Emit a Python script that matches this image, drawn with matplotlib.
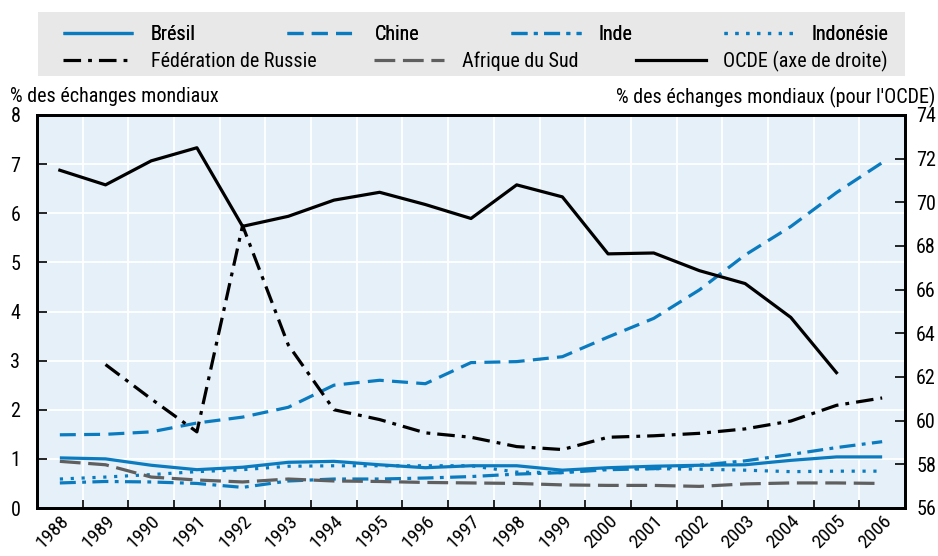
import matplotlib
matplotlib.use("Agg")
import matplotlib.pyplot as plt
from matplotlib import font_manager
import numpy as np
from matplotlib.patches import Rectangle

avail = {f.name for f in font_manager.fontManager.ttflist}
fam = next((f for f in ['Liberation Sans Narrow', 'Roboto Condensed', 'Open Sans Condensed', 'Roboto'] if f in avail), 'DejaVu Sans')
plt.rcParams['font.family'] = [fam, 'DejaVu Sans']

years = [str(y) for y in range(1988, 2007)]
bresil = [1.02, 1.00, 0.87, 0.78, 0.83, 0.93, 0.95, 0.88, 0.82, 0.86, 0.86, 0.77, 0.82, 0.85, 0.87, 0.88, 0.97, 1.04, 1.04]
chine = [1.49, 1.50, 1.55, 1.73, 1.85, 2.05, 2.50, 2.60, 2.53, 2.96, 2.98, 3.08, 3.48, 3.86, 4.44, 5.15, 5.73, 6.42, 7.03]
inde = [0.51, 0.54, 0.53, 0.50, 0.42, 0.55, 0.59, 0.59, 0.61, 0.64, 0.69, 0.72, 0.78, 0.80, 0.87, 0.96, 1.09, 1.23, 1.35]
indonesie = [0.59, 0.63, 0.68, 0.74, 0.78, 0.85, 0.86, 0.86, 0.86, 0.86, 0.73, 0.72, 0.81, 0.80, 0.79, 0.77, 0.74, 0.75, 0.75]
russie = [np.nan, 2.92, 2.22, 1.55, 5.75, 3.32, 2.00, 1.80, 1.53, 1.44, 1.25, 1.19, 1.44, 1.47, 1.52, 1.61, 1.77, 2.09, 2.24]
afrique = [0.95, 0.88, 0.63, 0.57, 0.53, 0.59, 0.55, 0.54, 0.52, 0.51, 0.50, 0.47, 0.46, 0.46, 0.44, 0.49, 0.51, 0.51, 0.50]
ocde = [71.47, 70.80, 71.90, 72.50, 68.90, 69.36, 70.10, 70.46, 69.90, 69.26, 70.80, 70.25, 67.64, 67.68, 66.87, 66.28, 64.73, 62.20, np.nan]

labels = ["Brésil", "Chine", "Inde", "Indonésie", "Fédération de Russie", "Afrique du Sud", "OCDE (axe de droite)"]

blue = "#0b7bc0"
gray = "#5f5f5f"
black = "#000000"
lw = 2.3
fs = 14.5

fig = plt.figure(figsize=(9.38, 5.56), dpi=100)
ax = fig.add_axes([37/938, 1-508/556, (905-37)/938, (508-115)/556])
ax.set_facecolor("#e5f0f8")
x = np.arange(len(years))

styles = [
    (bresil, blue, None),
    (chine, blue, (5.0, 2.6)),
    (inde, blue, (5.0, 2.0, 1.2, 2.0)),
    (indonesie, blue, (1.0, 2.4)),
    (russie, black, (5.5, 2.2, 1.2, 2.2)),
    (afrique, gray, (6.5, 2.4)),
]
handles = []
for (vals, col, dash), lab in zip(styles, labels[:6]):
    ln, = ax.plot(x, vals, color=col, lw=lw, solid_capstyle='butt', dash_capstyle='butt', zorder=3)
    if dash is not None:
        ln.set_dashes(dash)
    handles.append(ln)

ax2 = ax.twinx()
ln, = ax2.plot(x, ocde, color=black, lw=lw, zorder=3)
handles.append(ln)

ax.set_xlim(-0.5, len(years) - 0.5)
ax.set_ylim(0, 8)
ax2.set_ylim(56, 74)
ax.set_yticks(range(0, 9))
ax2.set_yticks(range(56, 75, 2))

ax.set_xticks(np.arange(0.5, len(years) - 1, 1.0))
ax.set_xticklabels([])
ax.set_xticks(x, minor=True)
ax.set_xticklabels(years, minor=True, rotation=45, ha='right', va='top', rotation_mode='anchor')
ax.tick_params(axis='x', which='minor', length=0, pad=3, labelsize=14)
ax.tick_params(axis='x', which='major', direction='in', length=6, width=1.2)
ax.tick_params(axis='y', direction='in', length=7, width=1.2, labelsize=fs, pad=12)
ax2.tick_params(axis='y', direction='in', length=7, width=1.2, labelsize=fs, pad=8)

ax.grid(True, which='major', color='white', lw=1.3, zorder=1)
ax.set_axisbelow(True)
for a in (ax, ax2):
    for s in a.spines.values():
        s.set_linewidth(2)
        s.set_color('black')

fig.text(10/938, 1-97/556, "% des échanges mondiaux", fontsize=fs, va='center', ha='left')
fig.text(935/938, 1-97/556, "% des échanges mondiaux (pour l'OCDE)", fontsize=fs, va='center', ha='right')

# legend background
fig.patches.append(Rectangle((38/938, 1-76/556), (905-38)/938, 64/556, transform=fig.transFigure,
                             facecolor="#e8e8e8", edgecolor='none', zorder=0))
row1 = [0, 1, 2, 3]
row2 = [4, 5, 6]
common = dict(mode='expand', loc='lower left', frameon=False, fontsize=fs,
              handlelength=3.5, handletextpad=0.85, borderaxespad=0, borderpad=0)
leg1 = fig.legend([handles[i] for i in row1], [labels[i] for i in row1], ncol=4,
                  bbox_to_anchor=(63/938, 1-44/556, (888-63)/938, 26/556), **common)
leg2 = fig.legend([handles[i] for i in row2], [labels[i] for i in row2], ncol=3,
                  bbox_to_anchor=(63/938, 1-72/556, (888-63)/938, 26/556), **common)
fig.add_artist(leg1)

fig.savefig("out.png", dpi=100)
